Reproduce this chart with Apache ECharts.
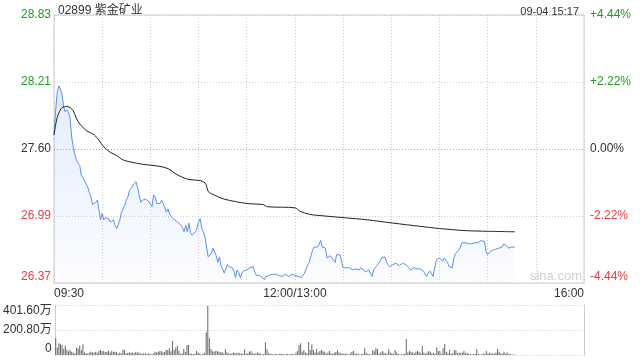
<!DOCTYPE html>
<html><head><meta charset="utf-8">
<script src="https://cdn.jsdelivr.net/npm/echarts@6/dist/echarts.min.js"></script>
<style>html,body{margin:0;padding:0;background:#fff}#c{width:640px;height:360px}</style>
</head><body><div id="c"></div>
<script>
const titleText = '02899 紫金矿业';
const stampText = '09-04 15:17';
const xTickLabels = ['09:30','','','','','12:00/13:00','','','','','','16:00'];
const priceTickLabels = ['26.37','26.99','27.60','28.21','28.83'];
const pctTickLabels = ['-4.44%','-2.22%','0.00%','+2.22%','+4.44%'];
const volTickLabels = ['0','200.80万','401.60万'];

// price per minute from 09:30 (index = minutes of trading)
const price = [
27.73,27.95,28.12,28.18,28.15,28.10,27.99,27.94,27.96,27.94,
27.89,27.71,27.62,27.55,27.50,27.47,27.45,27.36,27.34,27.34,
27.28,27.25,27.20,27.16,27.09,27.10,27.11,27.13,27.04,26.95,
27.01,26.95,26.97,26.98,26.96,26.93,26.94,26.95,26.90,26.87,
26.88,26.95,27.02,27.01,27.08,27.13,27.16,27.22,27.24,27.25,
27.28,27.30,27.25,27.18,27.11,27.13,27.12,27.14,27.15,27.12,
27.13,27.07,27.18,27.16,27.10,27.11,27.10,27.13,27.10,27.06,
27.02,27.05,27.00,26.98,26.97,26.95,26.96,26.93,26.92,26.90,
26.88,26.84,26.90,26.84,26.92,26.83,26.81,26.82,26.84,26.87,
26.93,26.96,26.87,26.84,26.79,26.70,26.61,26.60,26.64,26.69,
26.70,26.62,26.56,26.61,26.53,26.50,26.46,26.50,26.54,26.52,
26.52,26.51,26.48,26.42,26.49,26.47,26.42,26.46,26.48,26.49,
26.49,26.50,26.51,26.52,26.52,26.47,26.44,26.45,26.44,26.43,
26.42,26.40,26.43,26.44,26.44,26.43,26.45,26.46,26.45,26.44,
26.44,26.43,26.43,26.44,26.45,26.44,26.43,26.44,26.45,26.46,
26.44,26.43,26.43,26.42,26.42,26.44,26.46,26.50,26.54,26.56,
26.62,26.67,26.70,26.70,26.70,26.72,26.76,26.70,26.70,26.69,
26.60,26.61,26.62,26.61,26.58,26.56,26.63,26.64,26.63,26.57,
26.51,26.50,26.51,26.50,26.51,26.51,26.49,26.48,26.50,26.49,
26.49,26.51,26.52,26.49,26.47,26.47,26.49,26.46,26.43,26.49,
26.51,26.53,26.54,26.57,26.60,26.61,26.61,26.56,26.54,26.52,
26.53,26.54,26.55,26.55,26.54,26.53,26.54,26.55,26.54,26.54,
26.53,26.51,26.49,26.50,26.51,26.51,26.50,26.49,26.50,26.49,
26.48,26.47,26.43,26.46,26.48,26.49,26.43,26.42,26.58,26.59,
26.60,26.59,26.57,26.60,26.58,26.56,26.52,26.51,26.51,26.60,
26.64,26.65,26.67,26.70,26.74,26.75,26.74,26.74,26.73,26.74,
26.73,26.74,26.74,26.75,26.74,26.75,26.76,26.76,26.75,26.66,
26.63,26.65,26.66,26.67,26.67,26.68,26.68,26.69,26.70,26.70,
26.73,26.72,26.71,26.69,26.70,26.70,26.70,26.70
];

// average price line, read at these minutes
const avgMinutes = [0,1,2,3,5,8,10,12,14,16,18,20,25,28,31,35,39,43,48,55,61,66,71,76,80,84,91,94,95,96,98,106,120,130,133,150,153,159,165,180,195,211,228,240,257,270,287];
const avgValues  = [27.73,27.82,27.89,27.93,27.98,27.99,27.98,27.95,27.88,27.83,27.80,27.77,27.73,27.68,27.62,27.57,27.54,27.50,27.48,27.46,27.45,27.44,27.42,27.37,27.34,27.32,27.31,27.29,27.26,27.21,27.19,27.14,27.10,27.09,27.07,27.06,27.03,27.00,26.99,26.97,26.95,26.92,26.89,26.87,26.85,26.845,26.84];

// volume per minute, in 万
const volume = [
134,60,94,88,80,50,75,45,30,40,
27,19,15,59,53,75,40,86,21,15,
13,18,27,20,21,27,19,35,40,30,
32,25,27,35,21,32,25,27,27,13,
21,15,45,40,15,19,21,19,21,15,
27,21,21,13,11,15,13,8,13,10,
5,15,27,21,27,30,32,21,25,40,
40,54,30,112,40,60,75,32,11,13,
48,27,80,80,13,11,8,11,32,20,
13,5,10,19,182,396,134,48,30,27,
32,32,27,21,25,13,46,21,15,11,
13,21,16,13,21,15,13,10,46,11,
15,27,32,15,11,13,21,16,11,5,
8,102,46,15,11,8,5,11,8,5,
13,11,8,5,11,8,5,11,8,5,
19,32,80,94,27,40,21,15,102,40,
86,40,21,48,21,32,40,30,27,13,
20,32,15,11,19,25,38,21,15,11,
13,10,11,5,15,27,32,13,13,11,
5,8,11,54,19,11,8,5,40,30,
54,48,11,20,32,21,15,11,46,21,
15,11,40,21,10,5,5,8,11,128,
20,32,27,21,15,27,32,27,15,72,
21,11,20,32,27,15,19,11,62,32,
32,11,54,88,27,15,40,11,15,40,
38,15,21,16,21,32,15,19,11,8,
5,8,11,48,10,5,5,13,10,32,
13,19,15,13,11,20,48,27,15,11,
27,10,21,11,8,5,5,5
];

const yMin = parseFloat(priceTickLabels[0]);
const yMax = parseFloat(priceTickLabels[priceTickLabels.length - 1]);
const yStep = (yMax - yMin) / (priceTickLabels.length - 1);
const vMax = 401.6, vStep = 200.8;
const xMax = 330, xStep = 30;

const GREEN = '#1f9e1f', RED = '#f03c3c', DARK = '#333';
const tickRich = {
  up: {color: GREEN, fontSize: 12, fontFamily: 'Liberation Sans, Arial, sans-serif'},
  dn: {color: RED, fontSize: 12, fontFamily: 'Liberation Sans, Arial, sans-serif'},
  eq: {color: DARK, fontSize: 12, fontFamily: 'Liberation Sans, Arial, sans-serif'}
};
function styleKey(i){ const mid = (priceTickLabels.length - 1) / 2; return i > mid ? 'up' : (i < mid ? 'dn' : 'eq'); }
function idxOf(v){ return Math.round((v - yMin) / yStep); }

const FONT = 'Liberation Sans, "Noto Sans CJK SC", Arial, sans-serif';
const dotted = [1, 2];

const chart = echarts.init(document.getElementById('c'), null, {renderer: 'canvas'});
chart.setOption({
  animation: false,
  backgroundColor: '#fff',
  textStyle: {fontFamily: FONT},
  title: [
    {text: titleText, left: 53, top: 0, textStyle: {fontSize: 12, fontWeight: 'normal', color: '#333', fontFamily: FONT}},
    {text: stampText, right: 56, top: 1, textStyle: {fontSize: 11, fontWeight: 'normal', color: '#333', fontFamily: FONT}}
  ],
  graphic: [
    {type: 'text', right: 58, top: 270, silent: true,
     style: {text: 'sina.com', fill: '#cfcfcf', fontSize: 13, fontFamily: FONT}}
  ],
  grid: [
    {left: 54, right: 56, top: 15, height: 268, show: true, borderColor: '#ccc', borderWidth: 1},
    {left: 54, right: 56, top: 305, height: 50, show: false}
  ],
  xAxis: [
    {type: 'value', gridIndex: 0, min: 0, max: xMax, interval: xStep,
     axisLine: {show: false}, axisTick: {show: false},
     splitLine: {show: true, lineStyle: {color: '#ccc', type: dotted}},
     axisLabel: {color: '#333', fontSize: 12, margin: 5, fontFamily: FONT,
       alignMinLabel: 'left', alignMaxLabel: 'right',
       formatter: v => xTickLabels[Math.round(v / xStep)] || ''}},
    {type: 'value', gridIndex: 1, min: 0, max: xMax, interval: xStep,
     axisLine: {show: false}, axisTick: {show: false}, axisLabel: {show: false}, splitLine: {show: false}}
  ],
  yAxis: [
    {type: 'value', gridIndex: 0, min: yMin, max: yMax, interval: yStep,
     axisLine: {show: false}, axisTick: {show: false},
     splitLine: {show: true, lineStyle: {color: ['#ccc','#ccc','#aaa','#ccc','#ccc'], type: dotted}},
     axisLabel: {margin: 3, verticalAlignMaxLabel: 'top', verticalAlignMinLabel: 'bottom',
       rich: tickRich,
       formatter: v => { const i = idxOf(v); return '{' + styleKey(i) + '|' + priceTickLabels[i] + '}'; }}},
    {type: 'value', gridIndex: 0, position: 'right', min: yMin, max: yMax, interval: yStep,
     axisLine: {show: false}, axisTick: {show: false}, splitLine: {show: false},
     axisLabel: {margin: 6, verticalAlignMaxLabel: 'top', verticalAlignMinLabel: 'bottom',
       rich: tickRich,
       formatter: v => { const i = idxOf(v); return '{' + styleKey(i) + '|' + pctTickLabels[i] + '}'; }}},
    {type: 'value', gridIndex: 1, min: 0, max: vMax, interval: vStep,
     axisLine: {show: true, lineStyle: {color: '#ccc'}}, axisTick: {show: false},
     splitLine: {show: true, lineStyle: {color: '#ccc', type: dotted}},
     axisLabel: {color: '#333', fontSize: 12, margin: 4, fontFamily: FONT,
       verticalAlignMaxLabel: 'top', verticalAlignMinLabel: 'bottom',
       formatter: v => volTickLabels[Math.round(v / vStep)]}},
    {type: 'value', gridIndex: 1, position: 'right', min: 0, max: vMax, interval: vStep,
     axisLine: {show: true, lineStyle: {color: '#ccc'}}, axisTick: {show: false},
     axisLabel: {show: false}, splitLine: {show: false}}
  ],
  series: [
    {type: 'line', xAxisIndex: 0, yAxisIndex: 0, name: 'price',
     data: price.map((p, i) => [i, p]), showSymbol: false, symbol: 'none',
     lineStyle: {color: '#5b8ff5', width: 1},
     areaStyle: {origin: 'start', color: new echarts.graphic.LinearGradient(0, 0, 0, 1, [
       {offset: 0, color: 'rgba(91,143,245,0.24)'},
       {offset: 1, color: 'rgba(91,143,245,0.03)'}])},
     z: 3},
    {type: 'line', xAxisIndex: 0, yAxisIndex: 0, name: 'avg',
     data: avgMinutes.map((m, i) => [m, avgValues[i]]), showSymbol: false, symbol: 'none',
     smooth: 0.3, lineStyle: {color: '#222', width: 1}, z: 4},
    {type: 'bar', xAxisIndex: 1, yAxisIndex: 2, name: 'vol',
     data: volume.map((v, i) => [i, v]), barWidth: 1,
     itemStyle: {color: '#666'}}
  ]
});
</script></body></html>
